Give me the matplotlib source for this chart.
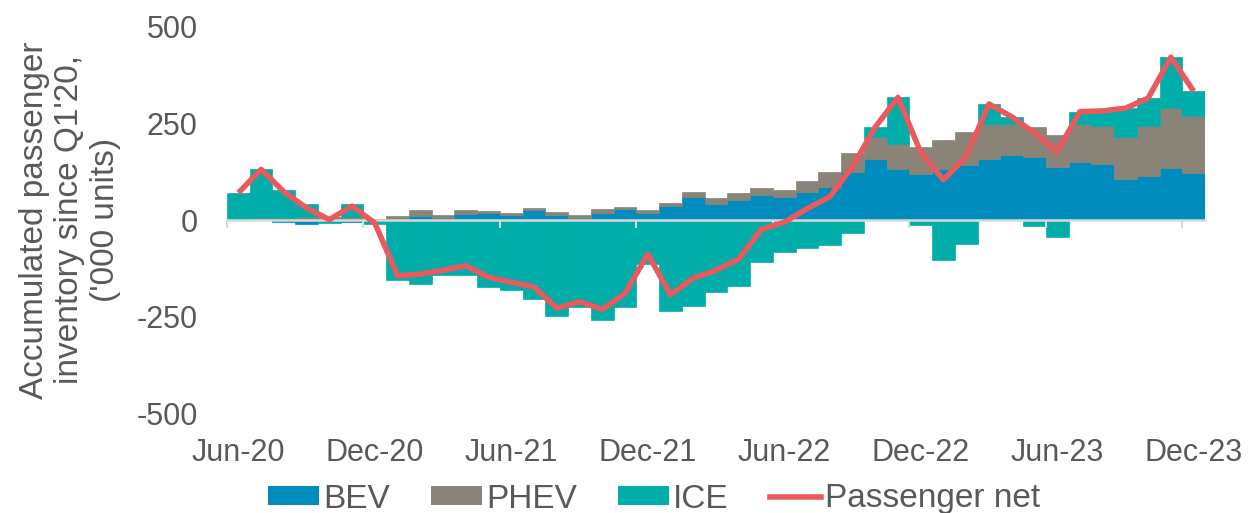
import matplotlib
matplotlib.use("Agg")
import matplotlib.pyplot as plt
import numpy as np
import pandas as pd
from matplotlib.patches import Patch
from matplotlib.lines import Line2D

# ---- data ('000 units, accumulated since Q1'20), monthly Jun-20 .. Dec-23 ----
months = pd.date_range("2020-06-01", periods=43, freq="MS").strftime("%b-%y").tolist()

bev = [0, 1, -5, -10, 0, -5, -6, 3, 11, 4, 15, 19, 13, 26, 13, 6, 19, 28, 19, 36,
       59, 42, 52, 65, 59, 72, 86, 125, 158, 131, 119, 131, 142, 158, 168, 162, 138,
       151, 145, 105, 114, 135, 121]
phev = [2, 3, 5, 8, 9, 8, 3, 8, 14, 9, 10, 5, 6, 6, 7, 7, 9, 6, 6, 7,
        13, 14, 17, 19, 19, 30, 39, 47, 56, 65, 69, 76, 85, 90, 80, 78, 82,
        97, 99, 109, 129, 155, 149]
ice = [68, 127, 73, 33, -8, 33, -5, -155, -165, -143, -143, -172, -180, -205, -248,
       -224, -259, -224, -113, -236, -222, -186, -170, -108, -84, -73, -65, -34, 26,
       121, -13, -103, -63, 52, 19, -15, -43, 32, 38, 75, 72, 131, 63]
passenger_net = [70, 131, 73, 31, 1, 36, -8, -144, -140, -130, -118, -148, -161, -173,
                 -228, -211, -231, -190, -88, -193, -150, -130, -101, -24, -6, 29, 60,
                 138, 240, 317, 175, 104, 164, 300, 267, 225, 177, 280, 282, 289, 315,
                 421, 333]

tick_labels = ["Jun-20", "Dec-20", "Jun-21", "Dec-21", "Jun-22", "Dec-22", "Jun-23", "Dec-23"]
y_ticks = [-500, -250, 0, 250, 500]

series_names = ["BEV", "PHEV", "ICE"]
colors = {"BEV": "#008CBC", "PHEV": "#8A8378", "ICE": "#00ADA8", "net": "#E85A5E"}
TEXT = "#595959"
AXIS = "#D9D9D9"

plt.rcParams["font.family"] = ["Liberation Sans", "DejaVu Sans"]
FS = 22
FS_BIG = 24

W, H = 1251, 513
fig = plt.figure(figsize=(W / 100, H / 100), dpi=100)
ax = fig.add_axes([227 / W, 1 - 413.4 / H, (1205 - 227) / W, (413.4 - 26.6) / H])

x = np.arange(len(months))
pos_base = np.zeros(len(months))
neg_base = np.zeros(len(months))
for name, vals in zip(series_names, [bev, phev, ice]):
    v = np.asarray(vals, dtype=float)
    bottom = np.where(v >= 0, pos_base, neg_base)
    ax.bar(x, v, width=1.0, bottom=bottom, color=colors[name],
           edgecolor=colors[name], linewidth=0.5, zorder=1)
    pos_base += np.where(v >= 0, v, 0)
    neg_base += np.where(v < 0, v, 0)

ax.plot(x, passenger_net, color=colors["net"], lw=4.0, zorder=4,
        solid_joinstyle="round", solid_capstyle="butt")

ax.set_xlim(-0.5, len(months) - 0.5)
ax.set_ylim(-500, 500)

for s in ["left", "right", "top"]:
    ax.spines[s].set_visible(False)
ax.spines["bottom"].set_position(("data", 0))
ax.spines["bottom"].set_color(AXIS)
ax.spines["bottom"].set_linewidth(1.8)
ax.spines["bottom"].set_zorder(3)

ax.set_xticks(np.arange(-0.5, len(months), 6))
ax.tick_params(axis="x", direction="out", length=6, width=1.5, color=AXIS,
               labelbottom=False)

ax.set_yticks(y_ticks)
ax.set_yticklabels([str(t) for t in y_ticks])
ax.tick_params(axis="y", length=0, pad=21, labelsize=FS, labelcolor=TEXT)

sec = ax.secondary_xaxis("bottom")
sec.set_xticks(np.arange(0, len(months), 6))
sec.set_xticklabels(tick_labels)
sec.tick_params(length=0, pad=18, labelsize=FS, labelcolor=TEXT)
for s in sec.spines.values():
    s.set_visible(False)

fig.text(70 / W, 1 - 220 / H, "Accumulated passenger\ninventory since Q1'20,\n('000 units)",
         rotation=90, ha="center", va="center", multialignment="center",
         fontsize=FS_BIG, color=TEXT, linespacing=1.2)

handles = [Patch(facecolor=colors["BEV"]), Patch(facecolor=colors["PHEV"]),
           Patch(facecolor=colors["ICE"]),
           Line2D([0], [0], color=colors["net"], lw=4.0)]
labels = ["BEV", "PHEV", "ICE", "Passenger net"]
fig.legend(handles, labels, loc="center", bbox_to_anchor=(654 / W, 1 - 499 / H),
           ncol=4, frameon=False, fontsize=FS_BIG, labelcolor=TEXT,
           handlelength=1.53, handleheight=0.5, handletextpad=0.12,
           columnspacing=1.23, borderpad=0, borderaxespad=0)

fig.savefig("out.png", dpi=100)
